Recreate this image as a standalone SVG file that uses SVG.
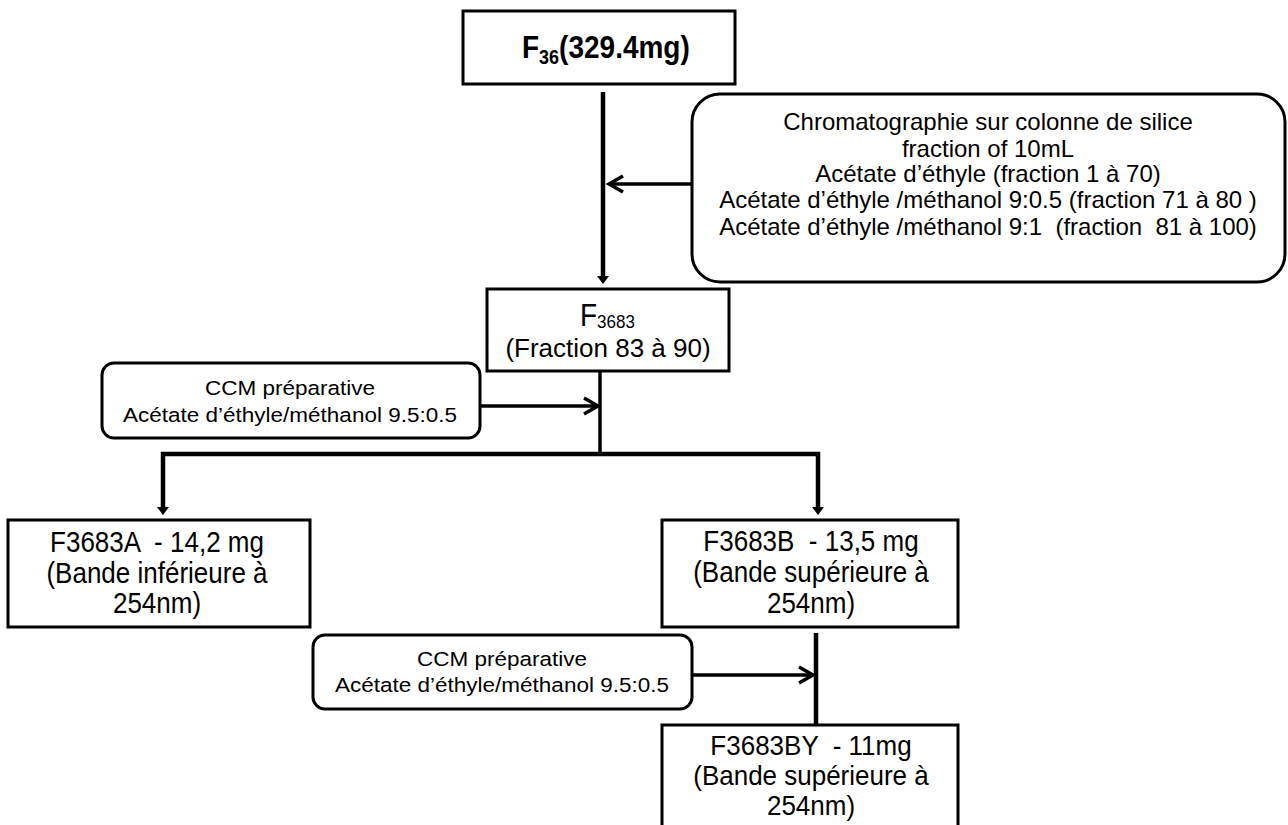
<svg xmlns="http://www.w3.org/2000/svg" width="1288" height="825" viewBox="0 0 1288 825">
<style>
text{font-family:"Liberation Sans",Arial,sans-serif;fill:#000;white-space:pre}
.box{fill:#fff;stroke:#000;stroke-width:3}
.rbox{fill:#fff;stroke:#000;stroke-width:3}
.thick{stroke:#000;stroke-width:4.5;fill:none}
.med{stroke:#000;stroke-width:3.5;fill:none}
.c{text-anchor:middle}
.f24{font-size:24px}
.f22{font-size:22.5px}
.f26{font-size:26px}
</style>
<defs>
<marker id="tri" markerUnits="userSpaceOnUse" viewBox="0 0 8 12" refX="1" refY="6" markerWidth="8" markerHeight="12" orient="auto">
<path d="M0,0 L8,6 L0,12 z" fill="#000"/>
</marker>
<marker id="chev" markerUnits="userSpaceOnUse" viewBox="-3 -3 20 22" refX="14" refY="8" markerWidth="20" markerHeight="22" orient="auto" overflow="visible">
<path d="M0,0 L14,8 L0,16" fill="none" stroke="#000" stroke-width="3.5" stroke-linejoin="miter"/>
</marker>
</defs>
<rect width="1288" height="825" fill="#fff"/>

<g id="connectors">
<line class="thick" x1="603" y1="92" x2="603" y2="277" marker-end="url(#tri)"/>
<line class="med" x1="691" y1="184" x2="609" y2="184" marker-end="url(#chev)"/>
<line class="med" x1="600" y1="371" x2="600" y2="456"/>
<line class="med" x1="480" y1="406" x2="598" y2="406" marker-end="url(#chev)"/>
<line class="thick" x1="161" y1="454" x2="820" y2="454"/>
<line class="thick" x1="163" y1="452" x2="163" y2="508" marker-end="url(#tri)"/>
<line class="thick" x1="818" y1="452" x2="818" y2="508" marker-end="url(#tri)"/>
<line class="thick" x1="816" y1="633" x2="816" y2="725"/>
<line class="med" x1="692" y1="675" x2="813" y2="675" marker-end="url(#chev)"/>
</g>

<g id="n-f36">
<rect class="box" x="463" y="11" width="272" height="73"/>
<text transform="translate(522,58) scale(1,1.1)" font-weight="bold"><tspan font-size="28">F</tspan><tspan font-size="18" dy="5">36</tspan><tspan font-size="28" dy="-5">(329.4mg)</tspan></text>
</g>

<g id="n-chromato">
<rect class="rbox" x="692" y="94" width="593" height="188" rx="28" ry="28"/>
<text class="c f24" x="988" y="130">Chromatographie sur colonne de silice</text>
<text class="c f24" x="988" y="157">fraction of 10mL</text>
<text class="c f24" x="988" y="182">Acétate d’éthyle (fraction 1 à 70)</text>
<text class="c f24" x="988" y="208">Acétate d’éthyle /méthanol 9:0.5 (fraction 71 à 80 )</text>
<text class="c f24" x="988" y="235">Acétate d’éthyle /méthanol 9:1  (fraction  81 à 100)</text>
</g>

<g id="n-f3683">
<rect class="box" x="487" y="289" width="242" height="82"/>
<text transform="translate(580,326) scale(1,1.1)"><tspan font-size="28">F</tspan><tspan font-size="17" dy="2">3683</tspan></text>
<text class="c f26" x="608" y="357">(Fraction 83 à 90)</text>
</g>

<g id="n-ccm1">
<rect class="rbox" x="102" y="363" width="378" height="75" rx="12" ry="12"/>
<text class="c f22" transform="translate(290,395) scale(1,0.92)">CCM préparative</text>
<text class="c f22" transform="translate(290,422) scale(1,0.92)">Acétate d’éthyle/méthanol 9.5:0.5</text>
</g>

<g id="n-f3683a">
<rect class="box" x="8" y="520" width="302" height="107"/>
<text class="c f26" transform="translate(157,552) scale(1,1.1)">F3683A  - 14,2 mg</text>
<text class="c f26" transform="translate(157,583) scale(1,1.1)">(Bande inférieure à</text>
<text class="c f26" transform="translate(157,613) scale(1,1.1)">254nm)</text>
</g>

<g id="n-f3683b">
<rect class="box" x="662" y="520" width="296" height="107"/>
<text class="c f26" transform="translate(811,551) scale(1,1.1)">F3683B  - 13,5 mg</text>
<text class="c f26" transform="translate(811,582) scale(1,1.1)">(Bande supérieure à</text>
<text class="c f26" transform="translate(811,613) scale(1,1.1)">254nm)</text>
</g>

<g id="n-ccm2">
<rect class="rbox" x="313" y="635" width="379" height="74" rx="12" ry="12"/>
<text class="c f22" transform="translate(502,666) scale(1,0.92)">CCM préparative</text>
<text class="c f22" transform="translate(502,692) scale(1,0.92)">Acétate d’éthyle/méthanol 9.5:0.5</text>
</g>

<g id="n-f3683by">
<rect class="box" x="662" y="725" width="296" height="110"/>
<text class="c f26" transform="translate(811,755) scale(1,1.05)">F3683BY  - 11mg</text>
<text class="c f26" transform="translate(811,785) scale(1,1.05)">(Bande supérieure à</text>
<text class="c f26" transform="translate(811,815) scale(1,1.05)">254nm)</text>
</g>
</svg>
